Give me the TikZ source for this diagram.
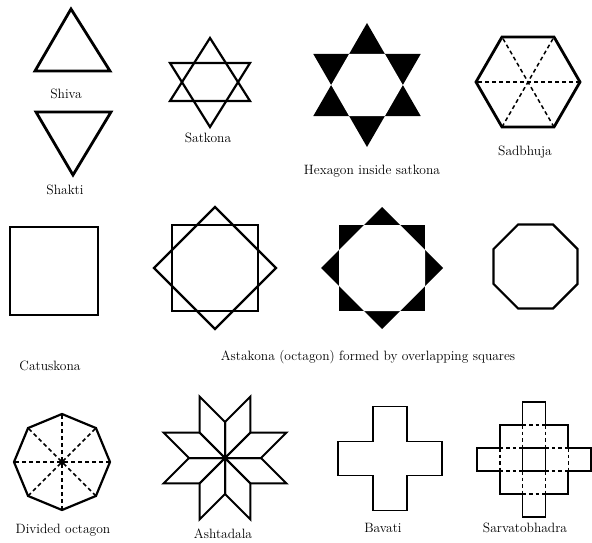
\documentclass[tikz,border=0pt]{standalone}
\usepackage{fontspec}
\begin{document}
\begin{tikzpicture}[x=1pt,y=-1pt,
  heavy/.style={line width=2.8pt, line join=miter},
  medium/.style={line width=2.2pt, line join=miter},
  light/.style={line width=1.6pt, line join=miter},
  dashline/.style={line width=1.5pt, dash pattern=on 4pt off 3pt},
  caption/.style={inner sep=0pt, font=\fontsize{13.5}{15}\selectfont\addfontfeatures{LetterSpace=7,FakeBold=0.6}}]
\useasboundingbox (0,0) rectangle (592,543);

% Shiva and Shakti
\draw[heavy] (71,9) -- (110,71) -- (35,71) -- cycle;
\node[caption] (shiva) at (66,94) {Shiva};
\draw[heavy] (36,112) -- (111,112) -- (73,175) -- cycle;
\node[caption] (shakti) at (65,190) {Shakti};

% Satkona
\draw[medium] (210,38) -- (250,101) -- (170,101) -- cycle;
\draw[medium] (170,63) -- (250,63) -- (210,127) -- cycle;
\node[caption] (satkona) at (208,138) {Satkona};

% Hexagon inside satkona
\begin{scope}[shift={(367,85)}]
  \fill (90:62) -- (60:35.8) -- (30:62) -- (0:35.8) -- (-30:62) -- (-60:35.8)
     -- (-90:62) -- (-120:35.8) -- (-150:62) -- (180:35.8) -- (150:62) -- (120:35.8) -- cycle;
  \fill[white] (0:35.8) -- (60:35.8) -- (120:35.8) -- (180:35.8) -- (240:35.8) -- (300:35.8) -- cycle;
\end{scope}
\node[caption] (hexsat) at (372,171) {Hexagon inside satkona};

% Sadbhuja
\begin{scope}[shift={(528,82)}]
  \draw[dashline] (0:52) -- (180:52);
  \draw[dashline] (60:52) -- (240:52);
  \draw[dashline] (120:52) -- (300:52);
  \draw[heavy] (0:52) -- (60:52) -- (120:52) -- (180:52) -- (240:52) -- (300:52) -- cycle;
\end{scope}
\node[caption] (sadbhuja) at (525,152) {Sadbhuja};

% Catuskona
\draw[heavy] (10,227) rectangle (98,315);
\node[caption] (catuskona) at (50,366) {Catuskona};

% Astakona outline
\begin{scope}[shift={(215,268)}]
  \draw[medium] (-43,-43) rectangle (43,43);
  \draw[medium] (0,-61) -- (61,0) -- (0,61) -- (-61,0) -- cycle;
\end{scope}

% Astakona filled
\begin{scope}[shift={(382,268)}]
  \fill (-43,-43) rectangle (43,43);
  \fill (0,-61) -- (61,0) -- (0,61) -- (-61,0) -- cycle;
  \fill[white] (43,18) -- (18,43) -- (-18,43) -- (-43,18) -- (-43,-18) -- (-18,-43) -- (18,-43) -- (43,-18) -- cycle;
\end{scope}

% Octagon
\begin{scope}[shift={(535.5,266.5)}]
  \draw[medium] (22.5:45.5) -- (67.5:45.5) -- (112.5:45.5) -- (157.5:45.5) -- (202.5:45.5) -- (247.5:45.5) -- (292.5:45.5) -- (337.5:45.5) -- cycle;
\end{scope}
\node[caption] (astakona) at (368,357) {Astakona (octagon) formed by overlapping squares};

% Divided octagon
\begin{scope}[shift={(62,462)}]
  \foreach \a in {0,45,90,135} \draw[dashline] (\a:48) -- (\a+180:48);
  \draw[medium] (0:48) -- (45:48) -- (90:48) -- (135:48) -- (180:48) -- (225:48) -- (270:48) -- (315:48) -- cycle;
  \fill (0,0) circle (2.8);
\end{scope}
\node[caption] (divoct) at (63,530) {Divided octagon};

% Ashtadala
\begin{scope}[shift={(225,458)}]
  \foreach \k in {0,...,7}
    \draw[line width=2pt, line join=miter] (0,0) -- (45*\k:36) -- (45*\k+22.5:66.5) -- (45*\k+45:36) -- cycle;
  \fill (0,0) circle (2.8);
\end{scope}
\node[caption] (ashtadala) at (223,534) {Ashtadala};

% Bavati
\begin{scope}[shift={(390,458.5)}]
  \draw[light] (-17,-52) -- (17,-52) -- (17,-17) -- (52,-17) -- (52,17) -- (17,17)
    -- (17,52) -- (-17,52) -- (-17,17) -- (-52,17) -- (-52,-17) -- (-17,-17) -- cycle;
\end{scope}
\node[caption] (bavati) at (383,528) {Bavati};

% Sarvatobhadra
\begin{scope}[shift={(477,402)}, x=22.8pt, y=-23pt]
  \draw[light] (2,0) -- (3,0) -- (3,1) -- (4,1) -- (4,2) -- (5,2) -- (5,3) -- (4,3) -- (4,4) -- (3,4)
    -- (3,5) -- (2,5) -- (2,4) -- (1,4) -- (1,3) -- (0,3) -- (0,2) -- (1,2) -- (1,1) -- (2,1) -- cycle;
  \draw[light] (2,2) rectangle (3,3);
  \draw[line width=1.4pt, dash pattern=on 3.5pt off 3pt]
    (1,2) -- (1,3)  (2,1) -- (2,2)  (2,3) -- (2,4)  (3,1) -- (3,2)  (3,3) -- (3,4)  (4,2) -- (4,3)
    (2,1) -- (3,1)  (1,2) -- (2,2)  (3,2) -- (4,2)  (1,3) -- (2,3)  (3,3) -- (4,3)  (2,4) -- (3,4);
\end{scope}
\node[caption] (sarvato) at (525,528) {Sarvatobhadra};
\end{tikzpicture}
\end{document}
